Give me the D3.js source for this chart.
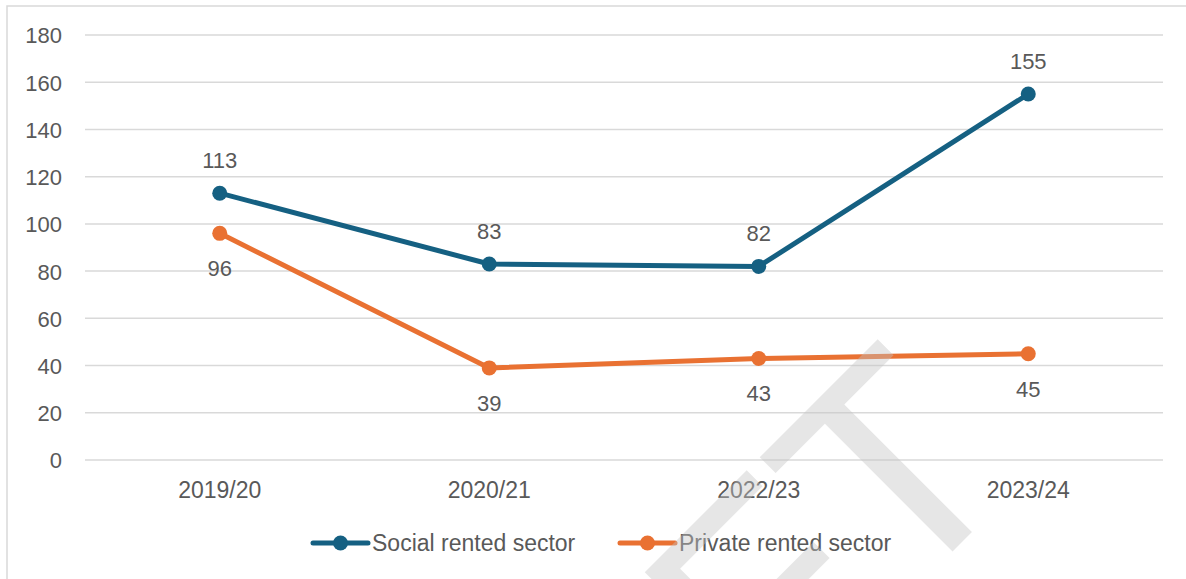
<!DOCTYPE html>
<html>
<head>
<meta charset="utf-8">
<script src="https://cdn.jsdelivr.net/npm/d3@7"></script>
<style>
  html, body { margin: 0; padding: 0; background: #ffffff; }
  svg { display: block; }
  text { font-family: "Liberation Sans", Arial, sans-serif; fill: #595959; }
</style>
</head>
<body>
<svg id="chart" width="1186" height="579"></svg>
<script>
// Yearly counts by rented sector
const years = ["2019/20", "2020/21", "2022/23", "2023/24"];
const socialRented = [113, 83, 82, 155];
const privateRented = [96, 39, 43, 45];
const seriesNames = ["Social rented sector", "Private rented sector"];
const yTicks = [0, 20, 40, 60, 80, 100, 120, 140, 160, 180];

const colors = ["#156082", "#E97132"];
const series = [
  { name: seriesNames[0], values: socialRented, color: colors[0], labelPos: "above" },
  { name: seriesNames[1], values: privateRented, color: colors[1], labelPos: "below" }
];

const svg = d3.select("#chart");
const W = 1186, H = 579;
const plot = { left: 85, right: 1163, top: 35, bottom: 460 };

// Outer chart border
svg.append("rect")
  .attr("x", 7).attr("y", 6)
  .attr("width", W + 20).attr("height", H + 20)
  .attr("fill", "#ffffff")
  .attr("stroke", "#d9d9d9").attr("stroke-width", 1.5);

const x = d3.scaleBand().domain(years).range([plot.left, plot.right]);
const y = d3.scaleLinear().domain([0, 180]).range([plot.bottom, plot.top]);
const cx = d => x(d) + x.bandwidth() / 2;

// Horizontal gridlines
svg.append("g")
  .selectAll("line")
  .data(yTicks)
  .join("line")
  .attr("x1", plot.left).attr("x2", plot.right)
  .attr("y1", d => y(d)).attr("y2", d => y(d))
  .attr("stroke", "#d9d9d9").attr("stroke-width", 1.5);

// Y axis labels
const yAxis = d3.axisLeft(y).tickValues(yTicks).tickSize(0).tickPadding(0);
svg.append("g")
  .attr("transform", `translate(62,0)`)
  .call(yAxis)
  .call(g => g.select(".domain").remove())
  .call(g => g.selectAll("text")
    .attr("font-size", 22)
    .attr("font-family", "Liberation Sans, Arial, sans-serif")
    .attr("fill", "#595959")
    .attr("dy", "0.36em"));

// X axis labels
const xAxis = d3.axisBottom(x).tickSize(0).tickPadding(0);
svg.append("g")
  .attr("transform", `translate(0,${plot.bottom})`)
  .call(xAxis)
  .call(g => g.select(".domain").remove())
  .call(g => g.selectAll("text")
    .attr("font-size", 23)
    .attr("font-family", "Liberation Sans, Arial, sans-serif")
    .attr("fill", "#595959")
    .attr("y", 38)
    .attr("dy", 0));

// Lines, markers and value labels
const line = d3.line()
  .x((d, i) => cx(years[i]))
  .y(d => y(d));

series.forEach(s => {
  const g = svg.append("g");
  g.append("path")
    .datum(s.values)
    .attr("d", line)
    .attr("fill", "none")
    .attr("stroke", s.color)
    .attr("stroke-width", 5)
    .attr("stroke-linejoin", "round")
    .attr("stroke-linecap", "round");
  g.selectAll("circle")
    .data(s.values)
    .join("circle")
    .attr("cx", (d, i) => cx(years[i]))
    .attr("cy", d => y(d))
    .attr("r", 7.5)
    .attr("fill", s.color);
  g.selectAll("text")
    .data(s.values)
    .join("text")
    .attr("x", (d, i) => cx(years[i]))
    .attr("y", d => s.labelPos === "above" ? y(d) - 25 : y(d) + 43)
    .attr("text-anchor", "middle")
    .attr("font-size", 22)
    .text(d => d);
});

// Legend
const legendItems = [
  { name: seriesNames[0], color: colors[0], x0: 313 },
  { name: seriesNames[1], color: colors[1], x0: 620 }
];
const lg = svg.append("g");
legendItems.forEach(it => {
  lg.append("line")
    .attr("x1", it.x0).attr("x2", it.x0 + 55)
    .attr("y1", 543).attr("y2", 543)
    .attr("stroke", it.color).attr("stroke-width", 5)
    .attr("stroke-linecap", "round");
  lg.append("circle")
    .attr("cx", it.x0 + 27.5).attr("cy", 543).attr("r", 7.5)
    .attr("fill", it.color);
  lg.append("text")
    .attr("x", it.x0 + 59).attr("y", 551)
    .attr("font-size", 23)
    .text(it.name);
});

// Diagonal draft watermark drawn over the chart
svg.append("text")
  .attr("transform", "translate(1026,478) rotate(-45)")
  .attr("text-anchor", "end")
  .attr("font-size", 295)
  .style("fill", "#c4c4c4")
  .style("fill-opacity", 0.42)
  .text("DRAFT");
</script>
</body>
</html>
